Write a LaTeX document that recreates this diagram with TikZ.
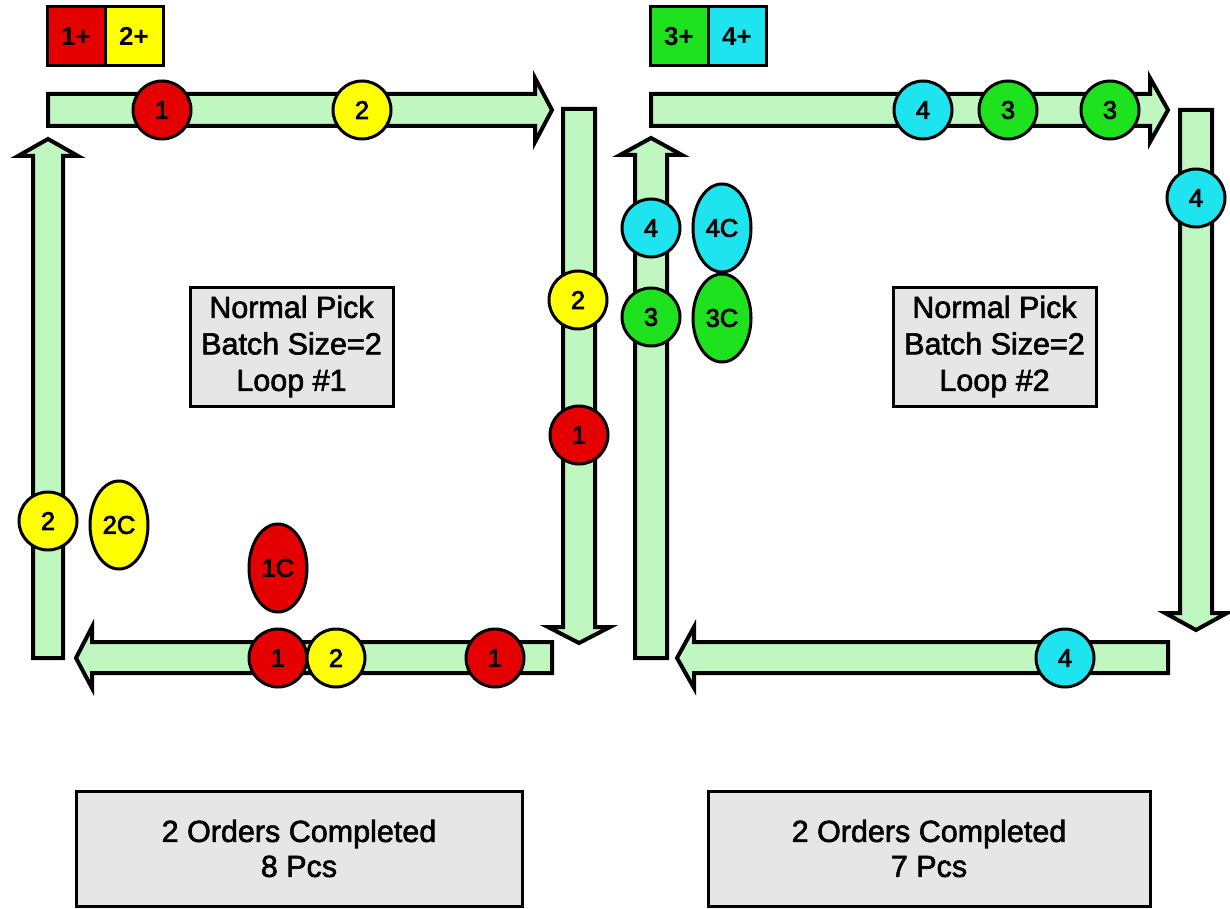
\documentclass[tikz,border=0pt]{standalone}
\usepackage{fontspec}
\setmainfont{Liberation Sans}
% heavier cuts of the regular face, for labels
\newfontfamily\heavyface{Liberation Sans}[FakeBold=2]
\newfontfamily\toteface{Liberation Sans}[FakeBold=3]
\usetikzlibrary{shapes.geometric}

\definecolor{beltgreen}{RGB}{192,247,192}
\definecolor{ordred}{RGB}{228,0,0}
\definecolor{ordyellow}{RGB}{255,255,0}
\definecolor{ordgreen}{RGB}{30,226,30}
\definecolor{ordcyan}{RGB}{30,228,240}
\definecolor{panelgray}{RGB}{230,230,230}

\tikzset{
  belt/.style={fill=beltgreen, draw=black, line width=4pt, line join=miter},
  tote/.style={circle, draw=black, line width=3pt, minimum size=58pt, inner sep=0pt,
    font=\toteface\fontsize{25.5}{25.5}\selectfont},
  carton/.style={ellipse, draw=black, line width=3pt, minimum width=58pt, minimum height=88pt,
    inner sep=0pt, font=\toteface\fontsize{25.5}{25.5}\selectfont},
  tag/.style={rectangle, draw=black, line width=3pt, minimum width=58pt, minimum height=59pt,
    inner sep=0pt, font=\bfseries\fontsize{26}{26}\selectfont},
  infobox/.style={rectangle, draw=black, line width=3pt, fill=panelgray, inner sep=0pt,
    align=center, font=\heavyface\fontsize{30.5}{36.5}\selectfont},
}

\begin{document}
\begin{tikzpicture}[x=1pt, y=-1pt]
\useasboundingbox (0,0) rectangle (1230,909);

% ---------- loop 1 conveyor ----------
\draw[belt] (48,94) -- (535,94) -- (535,78) -- (552,110) -- (535,142) -- (535,126) -- (48,126) -- cycle;
\draw[belt] (563,109) -- (595,109) -- (595,627) -- (610,627) -- (579,643) -- (548,627) -- (563,627) -- cycle;
\draw[belt] (552,642) -- (552,673) -- (92,673) -- (92,688) -- (76,658) -- (92,627) -- (92,642) -- cycle;
\draw[belt] (33,658) -- (63,658) -- (63,156) -- (78,156) -- (48,139) -- (18,156) -- (33,156) -- cycle;

% ---------- loop 2 conveyor ----------
\draw[belt] (651,94) -- (1150,94) -- (1150,78) -- (1168,110) -- (1150,142) -- (1150,126) -- (651,126) -- cycle;
\draw[belt] (1180,110) -- (1212,110) -- (1212,613) -- (1227,613) -- (1196,630) -- (1165,613) -- (1180,613) -- cycle;
\draw[belt] (1168,642) -- (1168,673) -- (694,673) -- (694,688) -- (677,658) -- (694,627) -- (694,642) -- cycle;
\draw[belt] (635,658) -- (667,658) -- (667,155) -- (682,155) -- (651,138) -- (620,155) -- (635,155) -- cycle;

% ---------- order tags ----------
\node[tag, fill=ordred]    (t1) at (76,36.5)  {1+};
\node[tag, fill=ordyellow] (t2) at (134,36.5) {2+};
\node[tag, fill=ordgreen]  (t3) at (679,36.5) {3+};
\node[tag, fill=ordcyan]   (t4) at (737,36.5) {4+};

% ---------- loop 1 totes ----------
\node[tote, fill=ordred]    (a1) at (162,110) {1};
\node[tote, fill=ordyellow] (a2) at (362,110) {2};
\node[tote, fill=ordyellow] (a3) at (578,300) {2};
\node[tote, fill=ordred]    (a4) at (579,435) {1};
\node[tote, fill=ordyellow] (a5) at (48,521)  {2};
\node[tote, fill=ordred]    (a6) at (278,658) {1};
\node[tote, fill=ordyellow] (a7) at (336,658) {2};
\node[tote, fill=ordred]    (a8) at (495,658) {1};
\node[carton, fill=ordyellow] (c2) at (119,525) {2C};
\node[carton, fill=ordred]    (c1) at (278,568) {1C};

% ---------- loop 2 totes ----------
\node[tote, fill=ordcyan]  (b1) at (923,110)  {4};
\node[tote, fill=ordgreen] (b2) at (1008,110) {3};
\node[tote, fill=ordgreen] (b3) at (1110,110) {3};
\node[tote, fill=ordcyan]  (b4) at (1196,198) {4};
\node[tote, fill=ordcyan]  (b5) at (1065,658) {4};
\node[tote, fill=ordcyan]  (b6) at (651,228)  {4};
\node[tote, fill=ordgreen] (b7) at (651,317)  {3};
\node[carton, fill=ordcyan]  (c4) at (722,228) {4C};
\node[carton, fill=ordgreen] (c3) at (722,318) {3C};

% ---------- captions ----------
\node[infobox, minimum width=203pt, minimum height=119pt] (loop1) at (291.5,346.5)
  {Normal Pick\\Batch Size=2\\Loop \#1};
\node[infobox, minimum width=203pt, minimum height=119pt] (loop2) at (994.5,346.5)
  {Normal Pick\\Batch Size=2\\Loop \#2};
\node[infobox, minimum width=446pt, minimum height=115pt,
  font=\heavyface\fontsize{30.5}{35}\selectfont] (sum1) at (299,848.5)
  {2 Orders Completed\\8 Pcs};
\node[infobox, minimum width=442pt, minimum height=115pt,
  font=\heavyface\fontsize{30.5}{35}\selectfont] (sum2) at (929,848.5)
  {2 Orders Completed\\7 Pcs};
\end{tikzpicture}
\end{document}
